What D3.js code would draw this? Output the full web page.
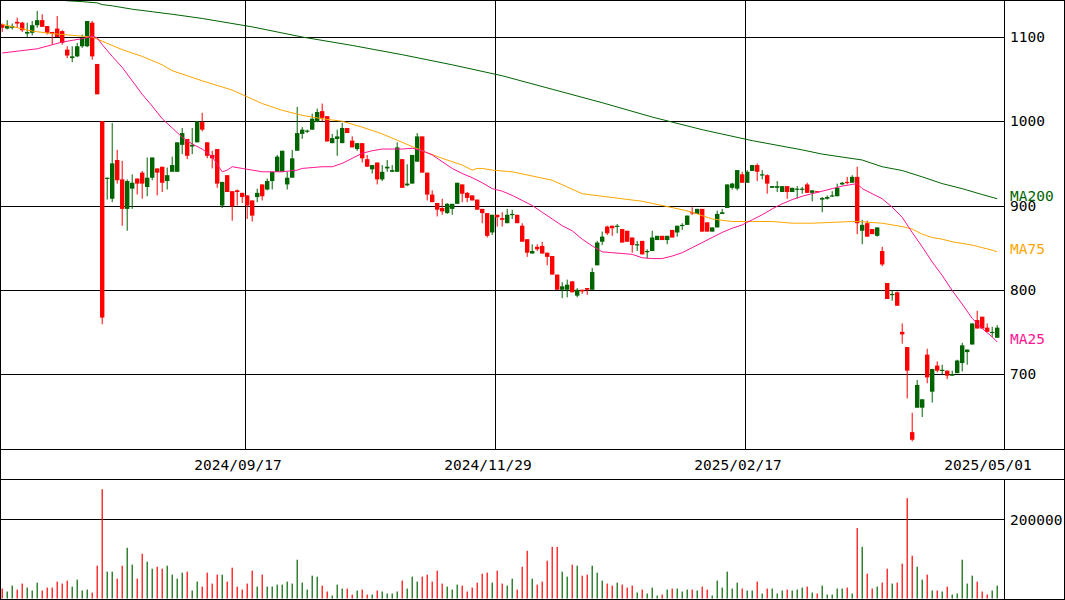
<!DOCTYPE html>
<html><head><meta charset="utf-8">
<script src="https://cdn.jsdelivr.net/npm/d3@7/dist/d3.min.js"></script>
<style>html,body{margin:0;padding:0;background:#fff;}svg{display:block;}</style>
</head><body>
<svg id="chart" width="1065" height="600"></svg>
<script>
// ---- data, one entry per trading day ----
const opens  = [1115,1110,1111,1118,1117,1104,1105,1114,1120,1113,1106,1110,1107,1085,1075,1077,1089,1089,1117,1068,
1000,932,908,954,931,896,920,932,939,922,933,944,946,929,940,940,972,979,970,975,
999,975,960,967,900,936,917,918,915,912,906,910,925,919,929,940,940,925,933,965,
985,988,990,999,1012,1006,974,979,974,992,977,967,974,955,943,951,931,944,940,940,
955,924,926,952,982,939,913,903,897,891,896,902,925,915,912,907,896,891,868,889,
885,879,889,889,876,860,843,851,852,844,840,818,800,800,810,793,800,802,800,829,
857,875,876,875,872,870,862,853,858,845,846,859,864,859,871,868,876,877,892,890,
896,880,869,874,890,897,921,920,937,927,941,948,936,936,921,921,916,923,916,919,
919,925,915,917,907,908,911,911,925,928,927,934,870,879,872,864,846,808,794,797,
750,732,631,660,660,723,679,710,704,704,698,701,713,726,735,764,768,755,749,743];
const highs  = [1116,1120,1116,1123,1118,1117,1119,1131,1127,1113,1106,1125,1108,1089,1089,1093,1103,1119,1119,1068,
1000,933,998,966,953,931,937,932,941,957,957,944,946,945,958,975,992,979,992,1000,
1010,975,965,967,928,936,917,919,915,912,906,920,925,932,940,960,965,940,966,1017,
993,990,1009,1015,1021,1006,985,990,998,992,982,974,974,960,948,951,948,954,948,975,
955,949,960,986,982,939,918,903,908,903,902,927,925,916,912,907,896,891,889,889,
892,896,895,889,879,860,854,854,857,844,840,818,809,812,810,802,800,802,826,858,
869,876,876,878,872,870,862,858,858,848,870,864,864,864,871,876,879,888,898,896,
896,880,874,894,896,925,927,942,940,942,948,950,942,937,923,929,923,923,921,923,
922,927,918,917,910,912,917,926,928,934,936,946,883,882,872,874,851,808,799,798,
760,732,654,693,670,730,706,715,711,704,704,717,737,729,760,775,768,760,756,758];
const lows   = [1106,1109,1109,1111,1106,1100,1102,1111,1112,1103,1091,1100,1091,1075,1070,1076,1087,1088,1073,1032,
759,907,904,926,876,870,896,913,908,911,930,912,916,919,940,940,961,955,961,975,
988,956,944,921,897,916,882,900,903,884,881,904,906,918,919,940,940,919,933,965,
979,986,990,999,1000,976,974,959,974,986,969,965,951,946,938,925,929,940,940,940,
921,923,926,952,939,906,904,887,889,890,889,902,904,904,906,895,879,862,865,875,
875,879,884,879,857,839,843,846,843,829,818,800,790,791,797,791,795,794,800,829,
853,865,864,867,856,857,844,846,842,837,846,859,859,854,862,863,871,877,889,890,
869,869,869,874,890,897,919,918,927,927,941,929,931,914,921,916,916,908,916,908,
914,915,905,916,892,907,910,911,924,925,927,866,854,863,866,863,828,789,787,781,
736,671,620,660,649,689,666,702,700,694,698,701,703,711,735,754,754,750,744,743];
const closes = [1111,1113,1113,1116,1108,1106,1114,1120,1112,1105,1104,1100,1093,1078,1077,1089,1099,1119,1077,1032,
767,933,950,930,896,929,927,926,926,933,957,939,927,936,948,975,986,959,972,1000,
990,959,956,926,928,916,899,916,910,900,888,915,911,929,940,958,965,933,956,986,
990,989,1003,1011,1004,976,980,982,992,986,969,974,956,946,948,931,940,946,942,969,
921,926,960,982,939,913,904,895,893,902,902,927,914,909,906,895,891,864,889,886,
883,889,890,879,857,844,846,848,843,839,818,800,804,806,797,800,798,800,821,856,
863,867,873,876,856,857,853,854,842,846,862,864,859,864,862,876,877,888,891,896,
869,869,874,890,892,925,926,942,927,940,948,940,937,926,923,923,923,916,921,920,
920,915,918,916,909,910,912,921,927,927,934,879,877,863,866,874,830,789,795,781,
747,704,622,687,670,696,706,704,705,698,700,716,734,729,760,754,754,750,750,755];
const volumes = [25100,17600,32600,22600,37700,27600,20100,40200,20100,27600,27600,42700,37700,45200,30100,47700,20100,22600,15100,82800,
276000,67800,67800,50200,82800,128000,85400,50200,113000,92900,75300,80300,75300,82800,60300,50200,65300,67800,20100,42700,
30100,65300,37700,60300,60300,42700,77800,30100,22600,37700,70300,30100,60300,30100,30100,35100,35100,42700,37700,97900,
40200,22600,57700,55200,32600,17600,7500,35100,25100,25100,10000,20100,22600,10000,10000,20100,17600,12600,12600,17600,
45200,25100,55200,42700,55200,60300,42700,70300,37700,30100,22600,35100,32600,17600,27600,40200,62800,65300,40200,70300,
37700,32600,50200,22600,80300,120500,50200,35100,42700,95400,130500,130500,67800,55200,85400,82800,57700,60300,82800,65300,
45200,37700,32600,40200,35100,27600,32600,15100,22600,12600,27600,7500,10000,22600,25100,25100,17600,22600,22600,20100,
30100,22600,7500,45200,27600,67800,25100,40200,25100,20100,20100,42700,12600,25100,25100,12600,20100,22600,20100,22600,
27600,30100,15100,12600,32600,10000,10000,25100,25100,27600,12600,178000,130500,62800,25100,30100,40200,75300,37700,40200,
87900,253500,108000,80300,47700,60300,20100,20100,17600,30100,10000,12600,97900,37700,57700,42700,17600,10000,20100,32600];

// moving averages read at sampled days (day index, value)
const ma25Days = [0,7,12,16,18,19,20,22,24,26,28,30,32,34,36,38,40,42,44,45,46,48,50,52,56,59,60,62,64,66,68,70,72,74,76,78,80,82,84,86,88,90,92,94,96,98,100,102,104,106,108,110,112,114,116,118,120,122,124,126,128,130,132,134,136,138,140,142,144,146,148,150,152,154,156,158,160,162,164,166,168,170,171,172,174,176,178,180,182,184,186,188,190,192,194,196,198,199];
const ma25Vals = [1081,1086,1094,1098,1101,1099,1091,1077,1064,1048,1032,1018,1003,992,981,973,967,958,940,942,946,944,942,940,940,942,944,945,946,946,950,956,962,965,967,967,967,968,965,960,952,944,938,933,927,920,917,912,906,900,892,884,876,870,860,852,845,844,843,842,838,837,837,840,844,850,856,862,868,873,877,883,889,896,902,907,911,914,917,920,923,925,926,920,914,908,898,886,868,851,833,817,799,783,766,754,744,738];
const ma75Days = [0,6,10,14,18,20,22,24,28,32,34,40,46,49,52,56,60,64,68,72,76,80,84,88,92,94,95,96,98,102,110,116,120,124,128,132,136,138,142,146,150,154,158,162,166,170,171,176,178,180,182,184,186,188,190,192,194,196,198,199];
const ma75Vals = [1115,1107,1104,1102,1100,1095,1090,1085,1077,1067,1060,1048,1037,1029,1021,1013,1007,1003,1000,993,985,975,965,956,948,942,944,944,942,940,930,914,911,908,905,900,895,892,884,881,881,881,879,879,880,881,881,879,877,875,872,866,862,860,857,855,853,850,847,845];
const ma200Days = [0,13,16,19,20,22,26,30,34,40,50,60,70,80,90,100,110,120,130,140,150,160,164,172,176,180,184,188,192,196,199];
const ma200Vals = [1150,1143,1142,1140.5,1138.5,1137,1133,1130,1127,1122,1112,1100,1090,1079,1067,1054,1038,1022,1005,990,977,966,961,954,946,941.5,934,926,920,913,908];

const priceTicks = [700,800,900,1000,1100];
const volumeTicks = [200000];
const dateTickDays = [49,99,149,199];
const dateTickLabels = ["2024/09/17","2024/11/29","2025/02/17","2025/05/01"];

// ---- drawing ----
const W = 1065, H = 600;
const plotRight = 1004;
const priceTop = 0, priceBottom = 449, volTop = 479, volBottom = 599;
const UP = "#006400", DOWN = "#ff0000";
const FONT = "'DejaVu Sans Mono', 'Liberation Mono', monospace";

const svg = d3.select("#chart");
const x = d3.scaleLinear().domain([0, 200]).range([0, 1000]);
const y = d3.scaleLinear().domain([700, 1100]).range([374, 37]);
const yv = d3.scaleLinear().domain([0, 200000]).range([598.5, 519.3]);

svg.append("rect").attr("width", W).attr("height", H).attr("fill", "#fff");

const defs = svg.append("defs");
defs.append("clipPath").attr("id", "pclip").append("rect")
  .attr("x", 0).attr("y", priceTop).attr("width", plotRight).attr("height", priceBottom - priceTop);

const grid = svg.append("g").attr("stroke", "#000").attr("stroke-width", 1).attr("shape-rendering", "crispEdges");
priceTicks.forEach(t => {
  const yy = Math.round(y(t)) + 0.5;
  grid.append("line").attr("x1", 0).attr("x2", plotRight).attr("y1", yy).attr("y2", yy);
});
dateTickDays.slice(0, 3).forEach(d => {
  const xx = Math.round(x(d)) + 0.5;
  grid.append("line").attr("x1", xx).attr("x2", xx).attr("y1", priceTop).attr("y2", priceBottom);
});
volumeTicks.forEach(t => {
  const yy = Math.round(yv(t)) + 0.5;
  grid.append("line").attr("x1", 0).attr("x2", plotRight).attr("y1", yy).attr("y2", yy);
});

// candles
const days = d3.range(opens.length);
const pg = svg.append("g").attr("clip-path", "url(#pclip)");
const colorOf = i => closes[i] >= opens[i] ? UP : DOWN;
pg.selectAll("rect.wick").data(days).join("rect").attr("class", "wick")
  .attr("x", i => x(i) + 1.7).attr("width", 1)
  .attr("y", i => y(highs[i])).attr("height", i => Math.max(1, y(lows[i]) - y(highs[i])))
  .attr("fill", colorOf);
pg.selectAll("rect.body").data(days).join("rect").attr("class", "body")
  .attr("x", i => x(i)).attr("width", 4.4)
  .attr("y", i => y(Math.max(opens[i], closes[i])))
  .attr("height", i => Math.max(1.2, Math.abs(y(opens[i]) - y(closes[i]))))
  .attr("fill", colorOf);

// moving averages
const line = d3.line().x(d => x(d[0]) + 2.2).y(d => y(d[1]));
const mas = [
  {days: ma200Days, vals: ma200Vals, color: "#006400", label: "MA200"},
  {days: ma75Days, vals: ma75Vals, color: "#ffa500", label: "MA75"},
  {days: ma25Days, vals: ma25Vals, color: "#ff1493", label: "MA25"}
];
mas.forEach(m => {
  pg.append("path").datum(m.days.map((d, i) => [d, m.vals[i]]))
    .attr("d", line).attr("fill", "none").attr("stroke", m.color).attr("stroke-width", 1);
});

// volume bars
svg.append("g").selectAll("rect").data(days).join("rect")
  .attr("x", i => x(i) + 1.6).attr("width", 1.2)
  .attr("y", i => yv(volumes[i])).attr("height", i => yv(0) - yv(volumes[i]))
  .attr("fill", colorOf);

// frame
const fr = svg.append("g").attr("stroke", "#000").attr("stroke-width", 1).attr("shape-rendering", "crispEdges").attr("fill", "none");
fr.append("rect").attr("x", 0.5).attr("y", 0.5).attr("width", W - 1.5).attr("height", H - 1.5);
fr.append("line").attr("x1", 0).attr("x2", W).attr("y1", priceBottom + 0.5).attr("y2", priceBottom + 0.5);
fr.append("line").attr("x1", 0).attr("x2", W).attr("y1", volTop + 0.5).attr("y2", volTop + 0.5);
fr.append("line").attr("x1", plotRight + 0.5).attr("x2", plotRight + 0.5).attr("y1", 0).attr("y2", priceBottom);
fr.append("line").attr("x1", plotRight + 0.5).attr("x2", plotRight + 0.5).attr("y1", volTop).attr("y2", volBottom);

// text
const tg = svg.append("g").attr("font-family", FONT).attr("font-size", "14.5px");
priceTicks.forEach(t => {
  tg.append("text").attr("x", 1010).attr("y", y(t)).attr("dy", "0.36em").attr("fill", "#000").text(t);
});
volumeTicks.forEach(t => {
  tg.append("text").attr("x", 1010).attr("y", yv(t)).attr("dy", "0.36em").attr("fill", "#000").text(t);
});
mas.forEach(m => {
  const last = m.vals[m.vals.length - 1];
  tg.append("text").attr("x", 1010).attr("y", y(last) - 3).attr("dy", "0.36em").attr("fill", m.color).text(m.label);
});
dateTickDays.forEach((d, i) => {
  tg.append("text").attr("x", x(d) - 7).attr("y", 465).attr("dy", "0.36em")
    .attr("text-anchor", "middle").attr("fill", "#000").text(dateTickLabels[i]);
});
</script>
</body></html>
